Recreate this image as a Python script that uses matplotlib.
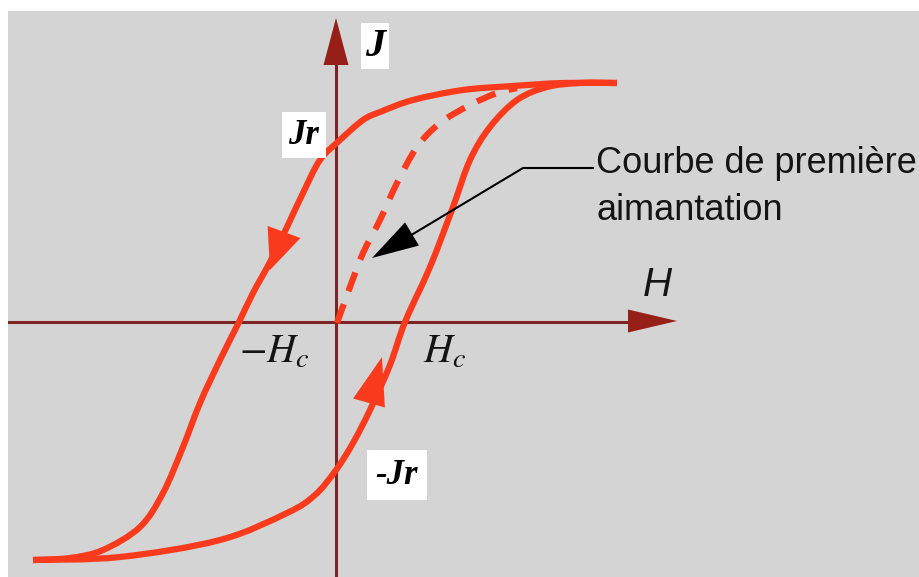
import matplotlib
matplotlib.use("Agg")
import matplotlib.pyplot as plt
from matplotlib.patches import Polygon, PathPatch
from matplotlib.path import Path
import numpy as np

# hysteresis loop (1 unit = 100 px)
desc_h = [2.81, 2.27, 1.77, 1.27, 0.77, 0.44, 0.27, 0.04, -0.16, -0.33, -0.49,
          -0.66, -0.83, -0.97, -1.16, -1.36, -1.53, -1.73, -1.96, -2.33, -2.66,
          -3.03]
desc_j = [2.39, 2.39, 2.36, 2.32, 2.22, 2.10, 2.02, 1.82, 1.62, 1.29, 0.95,
          0.60, 0.29, 0.00, -0.38, -0.81, -1.25, -1.71, -2.05, -2.28, -2.36,
          -2.38]

asc_h = [-3.03, -2.16, -1.16, -0.49, -0.21, 0.00, 0.17, 0.34, 0.54, 0.69,
         0.94, 1.17, 1.34, 1.54, 1.81, 2.11, 2.44, 2.81]
asc_j = [-2.38, -2.35, -2.18, -1.91, -1.73, -1.48, -1.21, -0.88, -0.43, 0.00,
         0.55, 1.15, 1.62, 1.95, 2.22, 2.35, 2.39, 2.39]

first_h = [0.01, 0.14, 0.27, 0.44, 0.61, 0.81, 1.04, 1.34, 1.61, 1.81]
first_j = [-0.01, 0.35, 0.69, 1.02, 1.39, 1.75, 1.99, 2.17, 2.29, 2.34]

label_first = ["Courbe de première", "aimantation"]

red = "#fa3a1c"
axis_red = "#7d2424"
head_red = "#961f18"
bg = "#d4d4d4"
ink = "#141414"


def smooth(xs, ys):
    # draw through the read points with bezier segments (catmull-rom tangents)
    p = np.column_stack([xs, ys])
    verts = [p[0]]
    codes = [Path.MOVETO]
    for i in range(len(p) - 1):
        p0 = p[max(i - 1, 0)]
        p3 = p[min(i + 2, len(p) - 1)]
        verts += [p[i] + (p[i + 1] - p0) / 6, p[i + 1] - (p3 - p[i]) / 6, p[i + 1]]
        codes += [Path.CURVE4] * 3
    return Path(verts, codes)


def head(ax, tip, base, width, color):
    tip = np.array(tip)
    base = np.array(base)
    d = tip - base
    n = np.array([-d[1], d[0]]) / np.hypot(*d) * width / 2
    ax.add_patch(Polygon([tip, base + n, base - n], closed=True,
                         color=color, lw=0, zorder=5))


fig = plt.figure(figsize=(9.19, 5.77), dpi=100)
fig.patch.set_facecolor("white")
ax = fig.add_axes([8 / 919, 0, 911 / 919, 566 / 577])
ax.set_xlim(-3.28, 5.83)
ax.set_ylim(-2.55, 3.11)
ax.axis("off")
ax.add_patch(plt.Rectangle((0, 0), 1, 1, transform=ax.transAxes,
                           color=bg, zorder=0))

# axes with arrows
ax.plot([-3.28, 2.95], [0, 0], color=axis_red, lw=2.2, zorder=2)
ax.plot([0, 0], [-2.55, 2.6], color=axis_red, lw=2.2, zorder=2)
head(ax, (3.41, 0.01), (2.92, 0.01), 0.23, head_red)
head(ax, (0.0, 3.04), (0.0, 2.57), 0.25, head_red)

# loop
for hs, js in [(desc_h, desc_j), (asc_h, asc_j)]:
    ax.add_patch(PathPatch(smooth(hs, js), fill=False, edgecolor=red, lw=4.5,
                           joinstyle="round", capstyle="butt", zorder=3))
ax.add_patch(PathPatch(smooth(first_h, first_j), fill=False, edgecolor=red,
                       lw=4.5, linestyle=(0, (3.2, 2.2)), capstyle="butt",
                       zorder=3))
head(ax, (-0.66, 0.52), (-0.52, 0.90), 0.35, red)
head(ax, (0.46, -0.35), (0.33, -0.81), 0.33, red)

# annotation
ax.plot([2.57, 1.87, 0.62], [1.54, 1.54, 0.79], color="black", lw=1.5, zorder=4)
head(ax, (0.36, 0.64), (0.76, 0.88), 0.27, "black")
ax.text(2.60, 1.49, label_first[0], fontsize=26, family="Liberation Sans",
        color=ink, va="baseline", ha="left")
ax.text(2.60, 1.02, label_first[1], fontsize=26, family="Liberation Sans",
        color=ink, va="baseline", ha="left")

# labels
ax.text(0.39, 2.76, "J", fontsize=29, family="Liberation Serif",
        style="italic", weight="bold", ha="center", va="center",
        bbox=dict(facecolor="white", edgecolor="none", pad=3))
ax.text(-0.32, 1.87, "Jr", fontsize=25, family="Liberation Serif",
        style="italic", weight="bold", ha="center", va="center",
        bbox=dict(facecolor="white", edgecolor="none", pad=5))
ax.text(0.61, -1.53, "-Jr", fontsize=25, family="Liberation Serif",
        style="italic", weight="bold", ha="center", va="center",
        bbox=dict(facecolor="white", edgecolor="none", pad=6))
ax.text(3.21, 0.37, "H", fontsize=29, family="Liberation Sans",
        style="italic", color=ink, ha="center", va="center")

plt.rcParams["mathtext.fontset"] = "stix"
ax.text(-0.62, -0.30, r"$-H_c$", fontsize=29, color=ink,
        ha="center", va="center")
ax.text(1.09, -0.30, r"$H_c$", fontsize=29, color=ink,
        ha="center", va="center")

fig.savefig("out.png", dpi=100, facecolor="white")
